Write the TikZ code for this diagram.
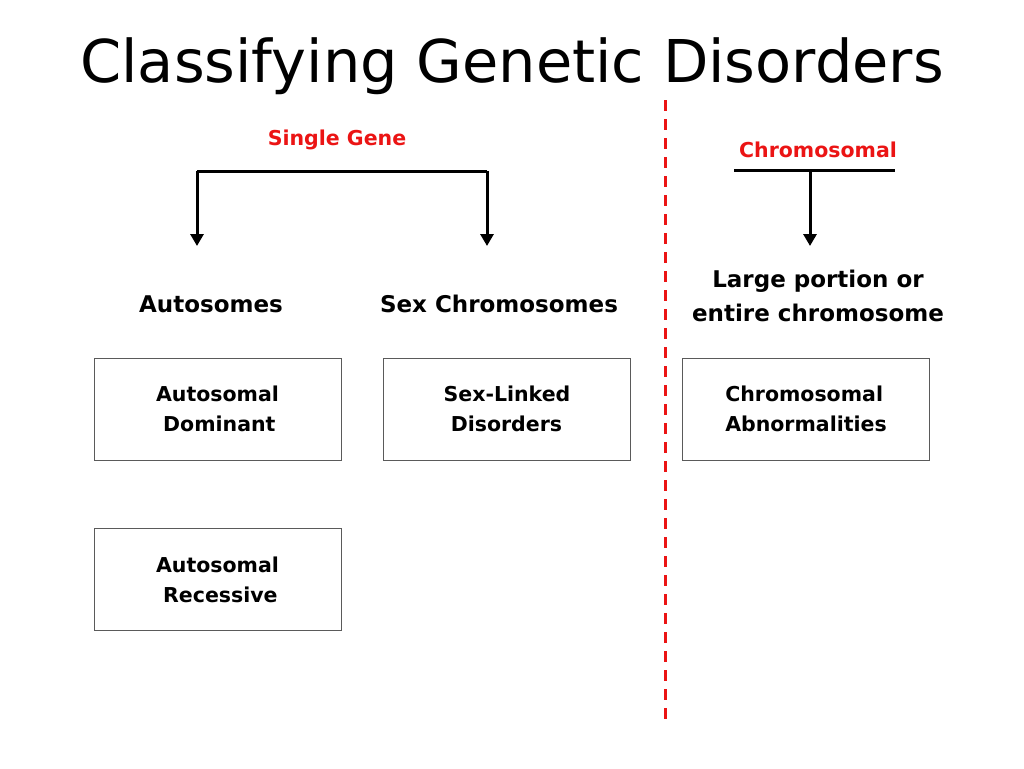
\documentclass[tikz,border=0pt]{standalone}
\usepackage{fontspec}
\setmainfont{DejaVu Sans}
\usetikzlibrary{arrows.meta,positioning}
\definecolor{hdred}{RGB}{235,20,20}
\definecolor{boxgray}{RGB}{90,90,90}

\tikzset{
  lbl/.style={font=\bfseries\fontsize{23}{26}\selectfont, inner sep=0pt},
  head/.style={lbl, text=hdred, font=\bfseries\fontsize{20.5}{24}\selectfont},
  disbox/.style={draw=boxgray, line width=1pt, minimum width=247pt, minimum height=102pt,
    align=left, font=\bfseries\fontsize{20.5}{30}\selectfont},
  brace/.style={line width=3pt},
  down/.style={brace, -{Triangle[width=13pt,length=12pt]}}
}

\begin{document}
\begin{tikzpicture}[x=1pt,y=-1pt]
\useasboundingbox (0,0) rectangle (1024,768);
\node (title) at (512,66) {\fontsize{59}{70}\selectfont Classifying Genetic Disorders};

% single gene side
\node[head] (single) at (337,140) {Single Gene};
\coordinate (sgL) at (197,171);
\coordinate (sgR) at (487,171);
\coordinate (sgLend) at (197,246);
\coordinate (sgRend) at (487,246);
\draw[brace] (sgL) -- (sgR);
\draw[down] (sgL) -- (sgLend);
\draw[down] (sgR) -- (sgRend);
\node[lbl] (auto) at (211,304) {Autosomes};
\node[lbl] (sex) at (499,304) {Sex Chromosomes};

% chromosomal side
\node[head] (chromo) at (818,150) {Chromosomal};
\coordinate (chL) at (734,170);
\coordinate (chR) at (895,170);
\coordinate (chM) at (810,170);
\coordinate (chend) at (810,246);
\draw[brace] (chL) -- (chR);
\draw[down] (chM) -- (chend);
\node[lbl, align=center, font=\bfseries\fontsize{23}{34}\selectfont] (large) at (818,296) {Large portion or\\entire chromosome};

% divider
\coordinate (divtop) at (665,100);
\coordinate (divbot) at (665,724);
\draw[hdred, line width=3pt, dash pattern=on 11pt off 8pt] (divtop) -- (divbot);

% boxes
\node[disbox] (ad) at (217.5,409) {Autosomal\\\ Dominant};
\node[disbox] (sl) at (507,409) {Sex-Linked\\\ Disorders};
\node[disbox] (ca) at (806,409) {Chromosomal\\Abnormalities};
\node[disbox] (ar) at (217.5,579.5) {Autosomal\\\ Recessive};
\end{tikzpicture}
\end{document}
